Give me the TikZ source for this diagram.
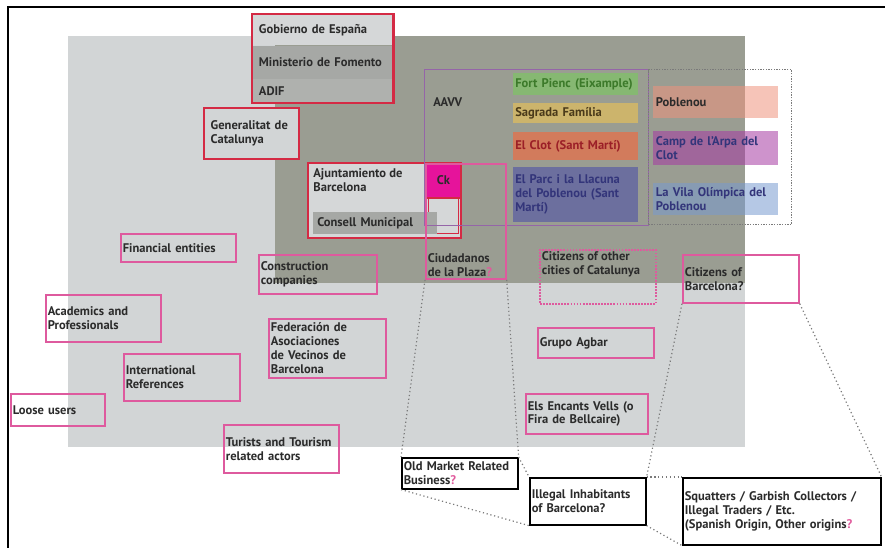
\documentclass[tikz,border=0pt]{standalone}
\usepackage{fontspec}
\setmainfont{PT Sans}
\usetikzlibrary{positioning,fit}
\definecolor{ink}{HTML}{2B2B2B}
\definecolor{lightbg}{HTML}{D2D5D6}
\definecolor{darkbg}{HTML}{9A9D92}
\definecolor{redframe}{HTML}{D42A44}
\definecolor{pinkline}{HTML}{DE5A9E}
\definecolor{qpink}{HTML}{E05A9C}
\definecolor{ckmag}{HTML}{E6139B}
\definecolor{aavvline}{HTML}{9565A8}
\definecolor{linkgray}{HTML}{7A7A7A}
\definecolor{rowlight}{HTML}{D5D7D8}
\definecolor{rowmid}{HTML}{A6A8A5}
\definecolor{rowlow}{HTML}{AFB1AE}
\definecolor{fortfill}{HTML}{86B872}
\definecolor{forttext}{HTML}{3C7A2A}
\definecolor{sagrfill}{HTML}{CCB46C}
\definecolor{sagrtext}{HTML}{4A3A1A}
\definecolor{clotfill}{HTML}{D27B5C}
\definecolor{clottext}{HTML}{9B1F27}
\definecolor{parcfill}{HTML}{6C6F9E}
\definecolor{parctext}{HTML}{33357A}
\definecolor{pobfill}{HTML}{EF937D}
\definecolor{campfill}{HTML}{A53AA3}
\definecolor{vilafill}{HTML}{789BCF}
\newcommand{\lbl}{\fontsize{9.4}{10.4}\selectfont\bfseries}
\newcommand{\qm}{\textcolor{qpink}{?}}
\tikzset{
  % pink-framed stakeholder, no fill
  stake/.style  = {draw=pinkline, line width=1.3pt, anchor=north west, align=left,
                   inner xsep=1.5pt, inner ysep=1pt, font=\lbl, text=ink},
  % black-framed open question at the bottom
  guess/.style  = {draw=black, line width=1.2pt, anchor=north west, align=left,
                   inner xsep=1.5pt, inner ysep=1pt, font=\lbl, text=ink},
  govrow/.style = {fill=#1, anchor=north west, align=left, inner xsep=5pt,
                   inner ysep=0pt, font=\lbl, text=ink, text width=95.75pt},
  govbox/.style = {draw=redframe, line width=1.6pt, anchor=north west, align=left,
                   inner sep=4pt, font=\lbl, text=ink},
  hood/.style   = {fill=#1, anchor=north west, align=left, inner xsep=1.5pt,
                   inner ysep=1pt, font=\lbl, text width=90.75pt},
  nbhd/.style   = {fill=#1, fill opacity=0.55, text opacity=1, anchor=north west,
                   align=left, inner xsep=2pt, inner ysep=1pt, font=\lbl,
                   text width=89.75pt},
  link/.style   = {dotted, line width=0.9pt, linkgray},
}
\begin{document}
\begin{tikzpicture}[x=0.75pt,y=-0.75pt]
\useasboundingbox (0,0) rectangle (885,548);
% --- page frame and backgrounds ------------------------------------------
\draw[line width=2.2pt, black] (8,548) -- (8,7) -- (885,7);
\fill[lightbg] (68,36) rectangle (745,447);
\fill[darkbg] (275,36) rectangle (745,283);
% --- state, region and city ----------------------------------------------
\node[govrow=rowlight, minimum height=23.25pt] (gob) at (252,14) {Gobierno de España};
\node[govrow=rowmid, minimum height=24.75pt, below=0pt of gob] (fom) {Ministerio de Fomento};
\node[govrow=rowlow, minimum height=17.25pt, below=0pt of fom] (adif) {ADIF};
\node[draw=redframe, line width=1.6pt, inner sep=0pt, fit=(gob)(adif)] (gobframe) {};
\node[govbox, fill=lightbg, inner xsep=5pt, text width=61.25pt, minimum height=38.25pt]
  (gen) at (203,107) {Generalitat de\\Catalunya};
\node[govbox, fill=rowlight] (ajunt) at (307,162)
  {\parbox[t][48.25pt][t]{106.75pt}{Ajuntamiento de\\Barcelona}};
\node[draw=redframe, line width=0.8pt, fill=rowlight, anchor=north west,
      minimum width=22.5pt, minimum height=27pt, inner sep=0pt] (cksub) at (428,197) {};
\node[fill=rowmid, anchor=north west, align=left, inner xsep=3pt, inner ysep=0pt,
      font=\lbl, text=ink, text width=87pt, minimum height=16.5pt] (consell) at (313,212)
  {Consell Municipal};
\node[draw=redframe, line width=1.6pt, fill=ckmag, anchor=north west, inner sep=0pt,
      minimum width=26.25pt, minimum height=26.25pt, font=\lbl, text=ink] (ck) at (425,162) {Ck};
% --- neighbourhood associations ------------------------------------------
\node[draw=aavvline, line width=0.9pt, anchor=north west, inner sep=0pt,
      minimum width=168pt, minimum height=117pt] (aavv) at (424,69) {};
\node[font=\lbl, text=ink, anchor=west, inner sep=0pt] (aavvtxt) at (433,102) {AAVV};
\node[hood=fortfill, text=forttext, minimum height=16.5pt] (fort) at (513,73) {Fort Pienc (Eixample)};
\node[hood=sagrfill, text=sagrtext, minimum height=15pt] (sagr) at (513,103) {Sagrada Família};
\node[hood=clotfill, text=clottext, minimum height=21pt] (clot) at (513,132) {El Clot (Sant Martí)};
\node[hood=parcfill, text=parctext, minimum height=41.25pt] (parc) at (513,167)
  {El Parc i la Llacuna\\del Poblenou (Sant\\Martí)};
\node[draw=linkgray, densely dotted, line width=1pt, anchor=north west, inner sep=0pt,
      minimum width=107.25pt, minimum height=116.25pt] (pobframe) at (648,69) {};
\node[nbhd=pobfill, text=ink, minimum height=24pt] (pob) at (653,86) {Poblenou};
\node[nbhd=campfill, text=parctext, minimum height=25.5pt] (camp) at (653,131) {Camp de l'Arpa del\\Clot};
\node[nbhd=vilafill, text=parctext, minimum height=24pt] (vila) at (653,183) {La Vila Olímpica del\\Poblenou};
% --- other stakeholders --------------------------------------------------
\node[stake, inner sep=1.5pt] (plaza) at (425,163)
  {\parbox[b][83.25pt][b]{57pt}{Ciudadanos\\de la Plaza\qm}};
\node[stake, densely dotted, inner sep=1.5pt] (othercit) at (539,249)
  {\parbox[t][37.5pt][t]{84pt}{Citizens of other\\cities of Catalunya}};
\node[stake, text width=84pt, minimum height=36pt] (citbcn) at (682,254) {Citizens of\\Barcelona?};
\node[stake, text width=84pt, minimum height=22.5pt] (agbar) at (537,327) {Grupo Agbar};
\node[stake, text width=88.5pt, minimum height=30pt] (encants) at (525,393) {Els Encants Vells (o\\Fira de Bellcaire)};
\node[stake, text width=83.25pt, minimum height=21pt] (fin) at (120,233) {Financial entities};
\node[stake, text width=83.25pt, minimum height=35.25pt] (acad) at (45,294) {Academics and\\Professionals};
\node[stake, text width=84pt, minimum height=35.25pt] (intl) at (123,353) {International\\References};
\node[stake, text width=67.5pt, minimum height=24pt] (loose) at (10,393) {Loose users};
\node[stake, text width=85.5pt, minimum height=29.25pt] (constr) at (258,254) {Construction\\companies};
\node[stake, text width=84.75pt, minimum height=44.25pt] (feder) at (268,318)
  {Federación de\\Asociaciones\\de Vecinos de\\Barcelona};
\node[stake, text width=83.25pt, minimum height=36pt] (turist) at (223,424) {Turists and Tourism\\related actors};
% --- open questions ------------------------------------------------------
\node[guess, text width=84pt, minimum height=23.25pt] (market) at (401,457) {Old Market Related\\Business\qm};
\node[guess, text width=84pt, minimum height=35.25pt] (illegal) at (529,477) {Illegal Inhabitants\\of Barcelona?};
\node[guess, text width=145.5pt, minimum height=50.25pt] (squat) at (682,477)
  {Squatters / Garbish Collectors /\\Illegal Traders / Etc.\\(Spanish Origin, Other origins\qm};
\draw[link] (plaza.south west) -- (market.north west);
\draw[link] (plaza.south east) -- (market.north east);
\draw[link] (market.north east) -- (illegal.north west);
\draw[link] (market.south west) -- (illegal.south west);
\draw[link] (citbcn.south west) -- (illegal.north east);
\draw[link] (illegal.north east) -- (squat.north west);
\draw[link] (illegal.south east) -- (squat.south west);
\draw[link] (citbcn.south east) -- (squat.north east);
\end{tikzpicture}
\end{document}
